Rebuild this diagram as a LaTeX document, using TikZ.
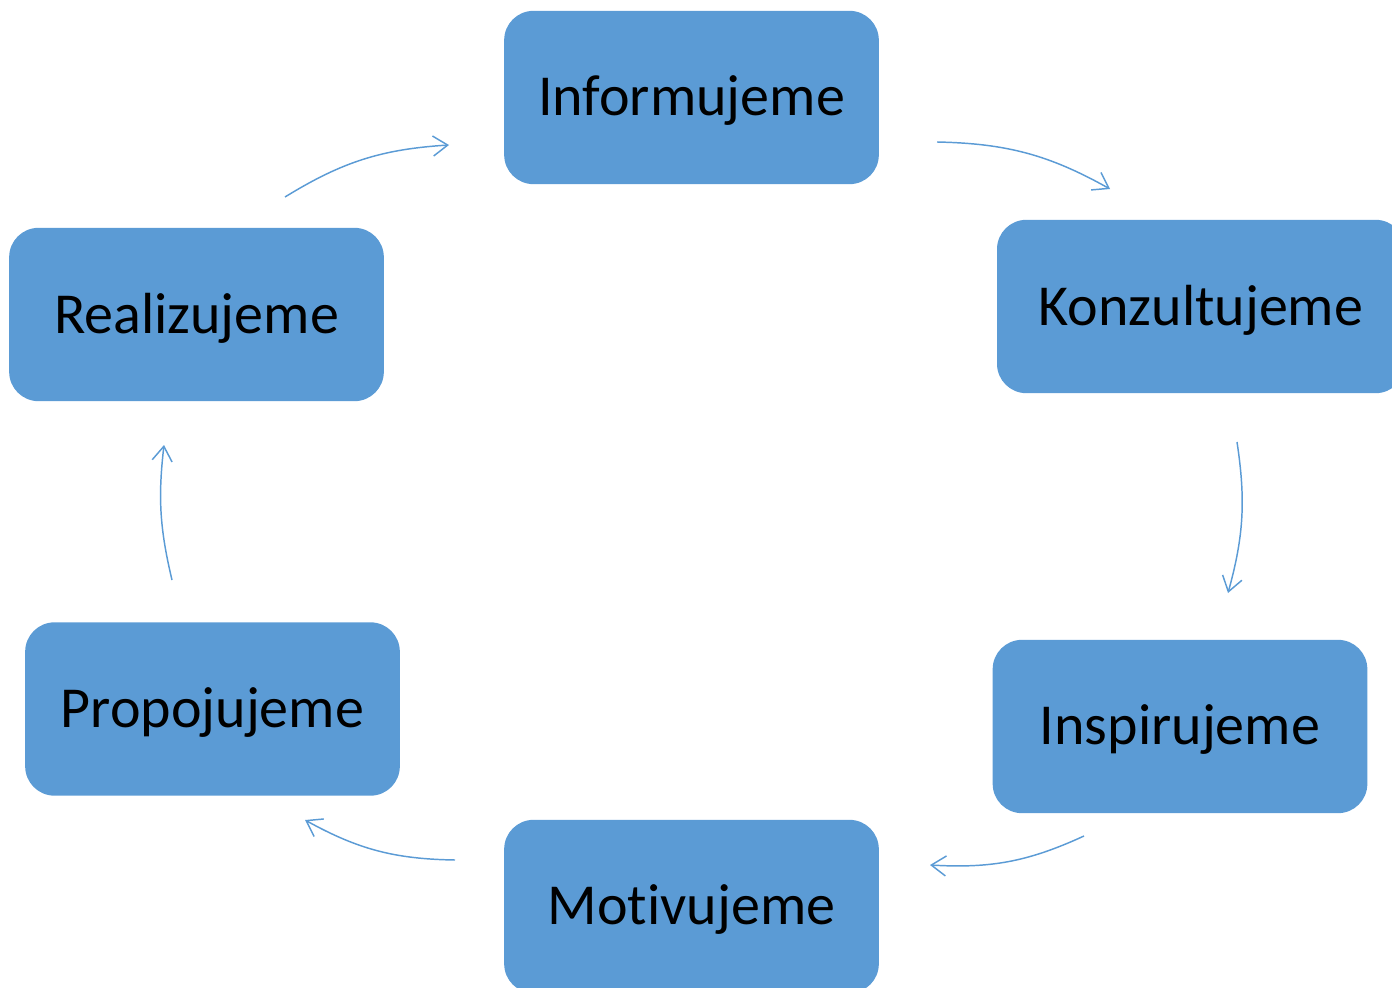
\documentclass[tikz,border=0pt]{standalone}
\usepackage{fontspec}
\setmainfont[Ligatures=NoCommon]{Carlito}
\usetikzlibrary{arrows.meta}
\definecolor{boxblue}{HTML}{5B9BD5}
\tikzset{
  stepbox/.style={fill=boxblue, draw=none, rounded corners=22pt, minimum width=281pt, minimum height=130pt, inner sep=0pt, font=\fontsize{43.5}{50}\selectfont, text=black},
  flow/.style={draw=boxblue, line width=1.1pt, -{Straight Barb[length=11pt,width=15pt,line width=1.1pt]}}
}
\newcommand{\boxtext}[1]{\raisebox{-2.5pt}[\height][\depth]{#1}}
\begin{document}
\begin{tikzpicture}[x=0.75pt,y=-0.75pt]
\useasboundingbox (0,0) rectangle (1392,988);
\node[stepbox] (inf) at (691.5,97.5) {\boxtext{Informujeme}};
\node[stepbox, minimum width=306pt] (kon) at (1201,306.5) {\boxtext{Konzultujeme}};
\node[stepbox] (ins) at (1180,726.5) {\boxtext{Inspirujeme}};
\node[stepbox] (mot) at (691.5,906.5) {\boxtext{Motivujeme}};
\node[stepbox] (pro) at (212.5,709) {\boxtext{Propojujeme}};
\node[stepbox] (rea) at (196.5,314.5) {\boxtext{Realizujeme}};
\coordinate (a1s) at (937,142); \coordinate (a1e) at (1110,189);
\coordinate (a2s) at (1237,442); \coordinate (a2e) at (1228,593);
\coordinate (a3s) at (1084,836); \coordinate (a3e) at (930,865);
\coordinate (a4s) at (455,860); \coordinate (a4e) at (305,820);
\coordinate (a5s) at (172,580); \coordinate (a5e) at (164,445);
\coordinate (a6s) at (285,197); \coordinate (a6e) at (449,145);
\draw[flow] (a1s) to[bend left=14] (a1e);
\draw[flow] (a2s) to[bend left=12] (a2e);
\draw[flow] (a3s) to[bend left=14] (a3e);
\draw[flow] (a4s) to[bend left=14] (a4e);
\draw[flow] (a5s) to[bend left=10] (a5e);
\draw[flow] (a6s) to[bend left=14] (a6e);
\end{tikzpicture}
\end{document}
